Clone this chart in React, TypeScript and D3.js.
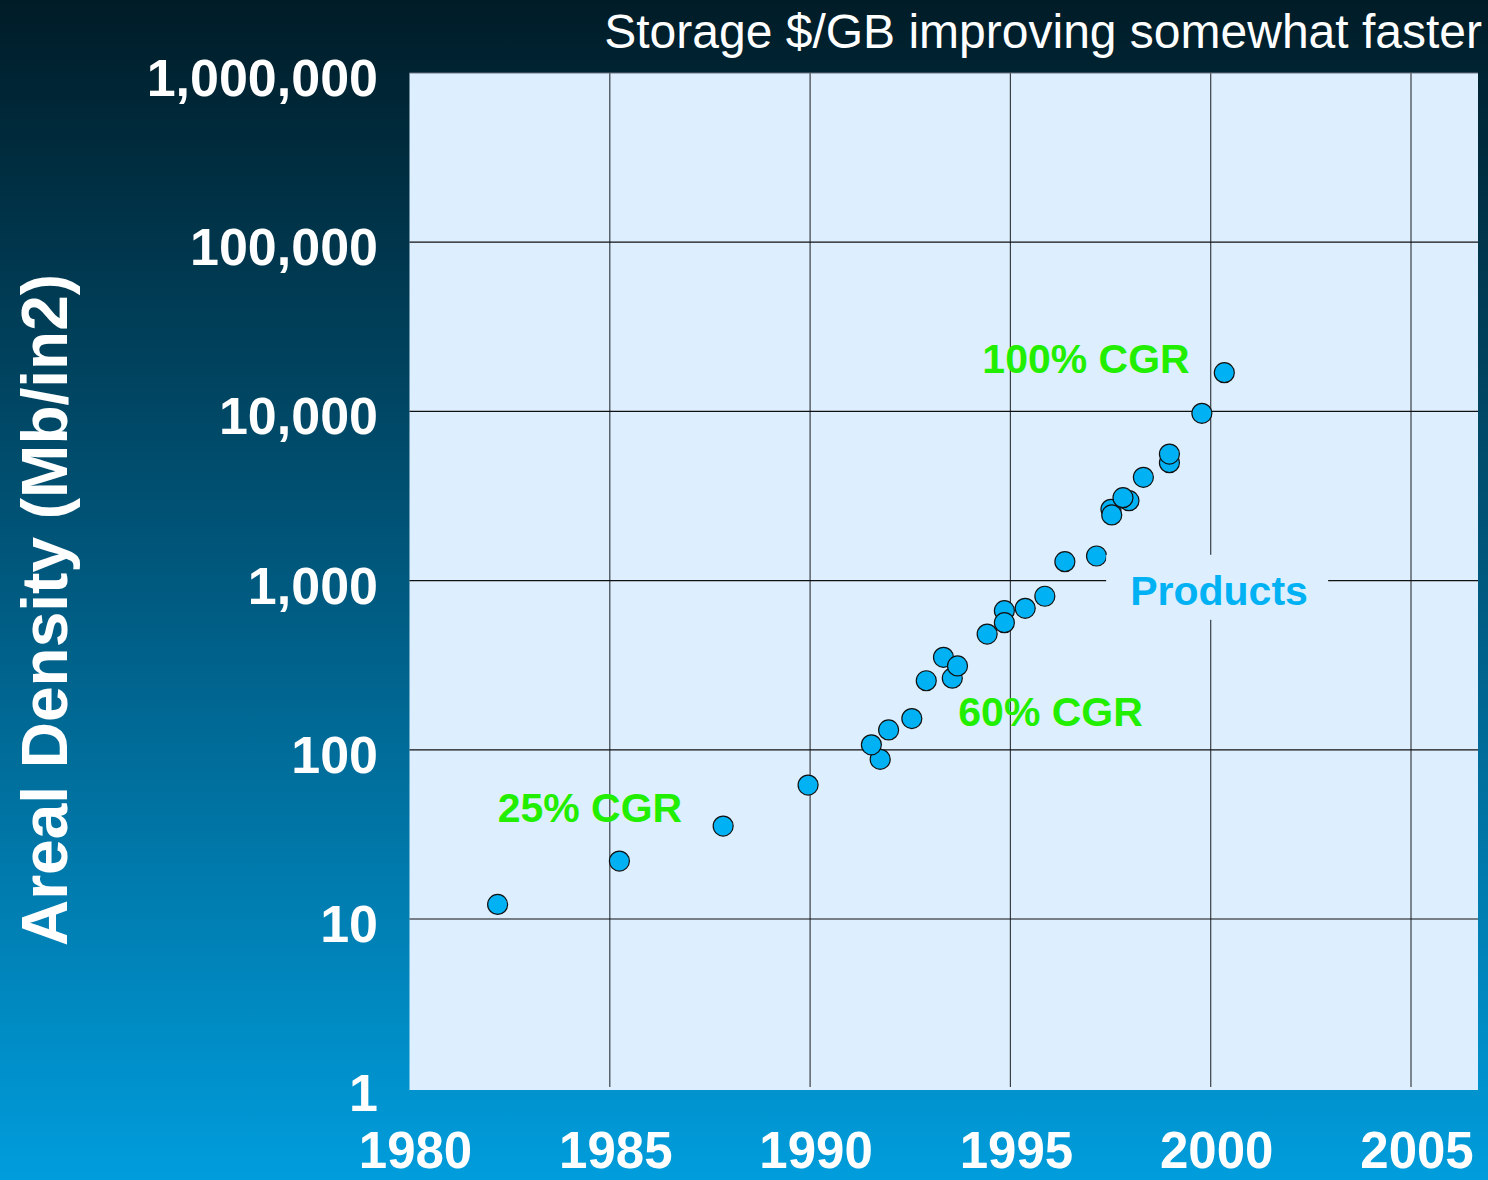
import React from "react";
import * as d3 from "d3";

const years = [
  1982.2, 1985.24, 1987.83, 1989.95, 1991.75, 1991.53, 1991.96, 1992.54, 1992.9,
  1993.55, 1993.33, 1993.68, 1994.42, 1994.85, 1994.85, 1995.37, 1995.86, 1996.36,
  1997.15, 1997.51, 1997.53, 1997.96, 1997.81, 1998.32, 1998.97, 1998.97, 1999.78, 2000.34,
];
const densities = [
  12.2, 22.0, 35.4, 61.9, 87.9, 107, 131, 153, 256,
  265, 352, 313, 483, 664, 564, 686, 808, 1294,
  1398, 2638, 2443, 2966, 3090, 4078, 4977, 5598, 9747, 16933,
];
const yTicks = [1, 10, 100, 1000, 10000, 100000, 1000000];
const xTicks = [1980, 1985, 1990, 1995, 2000, 2005];
const title = "Storage $/GB improving somewhat faster";
const yTitle = "Areal Density (Mb/in2)";
const annotations = [
  { text: "100% CGR", year: 1994.3, value: 16870 },
  { text: "60% CGR", year: 1993.7, value: 139 },
  { text: "25% CGR", year: 1982.2, value: 37.4 },
];
const productsLabel = { text: "Products", year: 1997.54, value: 700 };

const W = 1488;
const H = 1180;
const FONT = "'Liberation Sans', Arial, Helvetica, sans-serif";

export default function App() {
  const x = d3.scaleLinear().domain([1980, 2005]).range([409.5, 1411]);
  const y = d3.scaleLog().domain([1, 1000000]).range([1088.2, 73]);
  const plotLeft = x(1980);
  const plotRight = 1478;
  const plotTop = y(1000000);
  const plotBottom = 1090;
  const fmt = d3.format(",");
  const pts = years.map((yr, i) => ({ cx: x(yr), cy: y(densities[i]) }));
  const px = x(productsLabel.year);
  const py = y(productsLabel.value);

  return (
    <div style={{ position: "absolute", left: 0, top: 0 }}>
      <svg width={W} height={H} style={{ display: "block" }}>
        <defs>
          <linearGradient id="bg" x1="0" y1="0" x2="0" y2="1">
            <stop offset="0" stopColor="#001c27" />
            <stop offset="0.5" stopColor="#005a80" />
            <stop offset="1" stopColor="#009ddc" />
          </linearGradient>
        </defs>
        <rect x={0} y={0} width={W} height={H} fill="url(#bg)" />
        <rect
          x={plotLeft}
          y={plotTop}
          width={plotRight - plotLeft}
          height={plotBottom - plotTop}
          fill="#ddeffe"
        />
        {xTicks.slice(1).map((t) => (
          <line
            key={"vx" + t}
            x1={x(t)}
            x2={x(t)}
            y1={plotTop}
            y2={plotBottom - 3}
            stroke="#3a3f45"
            strokeWidth={1.2}
          />
        ))}
        {yTicks.slice(1).map((t) => (
          <line
            key={"hy" + t}
            x1={plotLeft}
            x2={plotRight}
            y1={y(t)}
            y2={y(t)}
            stroke={t === 1000000 ? "#6a7380" : "#111"}
            strokeWidth={1.2}
          />
        ))}
        {pts.map((p, i) => (
          <circle key={i} cx={p.cx} cy={p.cy} r={10} fill="#00b2f3" stroke="#111" strokeWidth={1.2} />
        ))}
        <rect x={px - 6} y={py - 52} width={222} height={65} fill="#ddeffe" />
        <text
          x={px + 18}
          y={py - 2}
          fill="#00b2f3"
          fontFamily={FONT}
          fontWeight="bold"
          fontSize={41}
        >
          {productsLabel.text}
        </text>
        {annotations.map((a) => (
          <text
            key={a.text}
            x={x(a.year)}
            y={y(a.value)}
            fill="#22ee00"
            fontFamily={FONT}
            fontWeight="bold"
            fontSize={41}
          >
            {a.text}
          </text>
        ))}
        {yTicks.map((t) => (
          <text
            key={"yl" + t}
            x={378}
            y={y(t) + 23}
            textAnchor="end"
            fill="#fff"
            fontFamily={FONT}
            fontWeight="bold"
            fontSize={52}
          >
            {fmt(t)}
          </text>
        ))}
        {xTicks.map((t) => (
          <text
            key={"xl" + t}
            x={x(t) + 6}
            y={1168}
            textAnchor="middle"
            fill="#fff"
            fontFamily={FONT}
            fontWeight="bold"
            fontSize={51}
          >
            {t}
          </text>
        ))}
        <text
          x={1482}
          y={48}
          textAnchor="end"
          fill="#fff"
          fontFamily={FONT}
          fontSize={48}
        >
          {title}
        </text>
        <text
          transform="translate(67,610) rotate(-90)"
          textAnchor="middle"
          fill="#fff"
          fontFamily={FONT}
          fontWeight="bold"
          fontSize={64}
        >
          {yTitle}
        </text>
      </svg>
    </div>
  );
}
